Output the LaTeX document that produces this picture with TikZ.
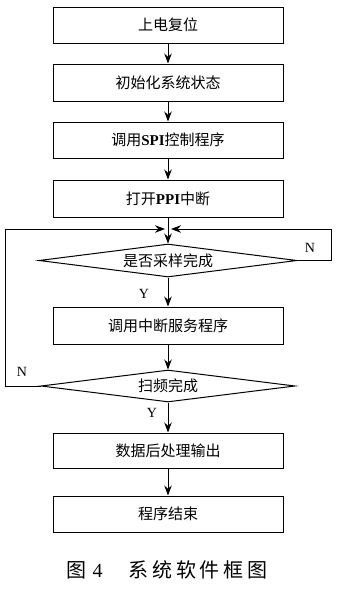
\documentclass[tikz,border=0pt]{standalone}
\usepackage{fontspec}
\setmainfont{Liberation Serif}
\newfontfamily\cjk{Noto Sans CJK SC}
\usetikzlibrary{shapes.geometric,arrows.meta}
\begin{document}
\begin{tikzpicture}[x=1pt,y=-1pt,
  every node/.style={font=\fontsize{15}{18}\selectfont},
  box/.style={draw, line width=1pt, minimum width=230pt, minimum height=36pt, inner sep=0pt},
  dia/.style={draw, diamond, line width=1pt, aspect=8, inner sep=0pt},
  line/.style={line width=1pt},
  arr/.style={line, -{Stealth[length=10pt,width=7.5pt]}},
  lbl/.style={font=\fontsize{14}{16}\selectfont}
]
\useasboundingbox (0,0) rectangle (340,589);
\node[box] (b1) at (168,25) {\cjk 上电复位};
\node[box, minimum height=37pt] (b2) at (168,82.5) {\cjk 初始化系统状态};
\node[box] (b3) at (168,140) {{\cjk 调用}\textbf{SPI}{\cjk 控制程序}};
\node[box, minimum height=37pt] (b4) at (168,198.5) {{\cjk 打开}\textbf{PPI}{\cjk 中断}};
\coordinate (j) at (168,229);
\node[dia, minimum width=258pt, minimum height=33pt] (d1) at (168,260.5) {\cjk 是否采样完成};
\node[box, minimum height=37pt] (b5) at (168,325.5) {\cjk 调用中断服务程序};
\node[dia, minimum width=254pt, minimum height=32pt] (d2) at (168,386) {\cjk 扫频完成};
\node[box, minimum height=35pt] (b6) at (168,450.5) {\cjk 数据后处理输出};
\node[box] (b7) at (168,514) {\cjk 程序结束};
\coordinate (r) at (331,229);
\coordinate (l) at (5,229);

\draw[arr] (b1.south) -- (b2.north);
\draw[arr] (b2.south) -- (b3.north);
\draw[arr] (b3.south) -- (b4.north);
\draw[arr] (b4.south) -- (d1.north);
\draw[arr] (d1.south) -- (b5.north);
\draw[arr] (b5.south) -- (d2.north);
\draw[arr] (d2.south) -- (b6.north);
\draw[arr] (b6.south) -- (b7.north);
\draw[arr, shorten >=3pt] (d1.east) -| (r) -- (j);
\draw[arr, shorten >=3pt] (d2.west) -| (l) -- (j);

\node[lbl] (y1) at (144,294) {Y};
\node[lbl] (y2) at (152,413) {Y};
\node[lbl] (n1) at (310,248) {N};
\node[lbl] (n2) at (22,372) {N};

\node[font=\fontsize{20}{24}\selectfont] (cap) at (167,570)
  {{\cjk 图}\hspace{6pt}4\hspace{26pt}{\cjk 系\hspace{3.8pt}统\hspace{3.8pt}软\hspace{3.8pt}件\hspace{3.8pt}框\hspace{3.8pt}图}};
\end{tikzpicture}
\end{document}
